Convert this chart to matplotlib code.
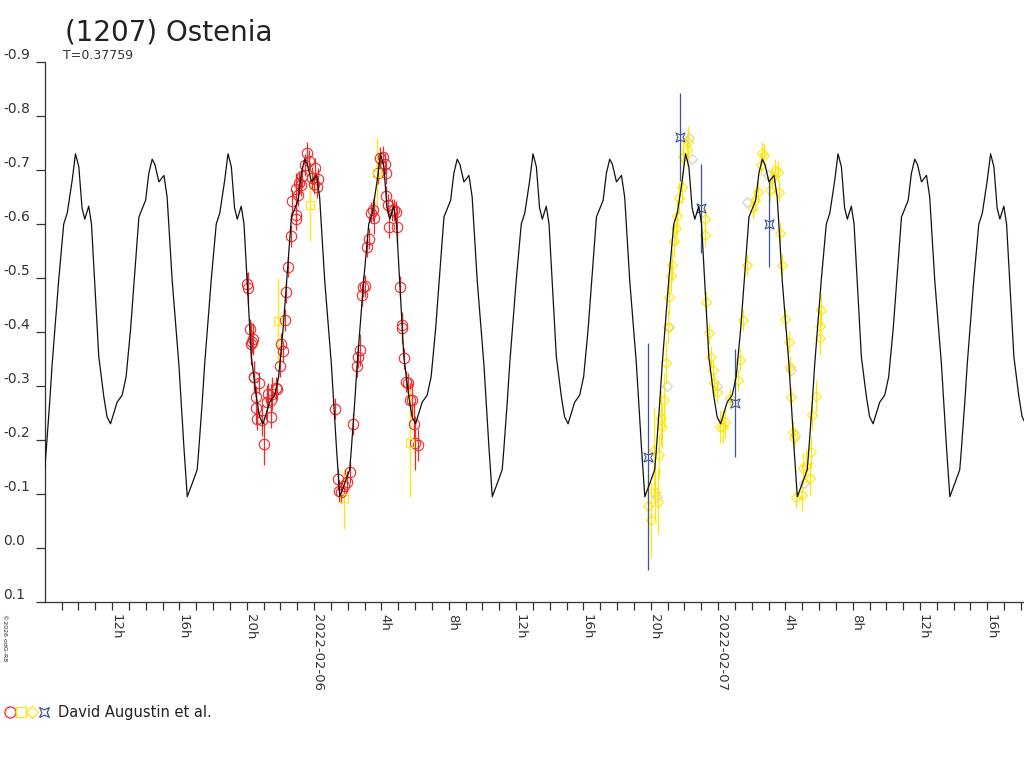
import numpy as np
import matplotlib
matplotlib.use("Agg")
import matplotlib.pyplot as plt
import matplotlib.dates as mdates
import matplotlib.transforms as mtransforms
from matplotlib.lines import Line2D
from matplotlib.legend_handler import HandlerTuple

plt.rcParams['axes.unicode_minus'] = False
plt.rcParams['font.family'] = ['DejaVu Sans']

# times are hours after 2022-02-06 00:00 UT, values are relative magnitudes
period_days = 0.37759
peak_hour = -14.18   # one maximum of the model curve

# model shape over one period (phase, mag)
shape_phase = [0.000, 0.022, 0.043, 0.061, 0.087, 0.105, 0.131, 0.153, 0.186, 0.207,
               0.230, 0.273, 0.306, 0.332, 0.361, 0.394, 0.416, 0.460, 0.481, 0.503,
               0.521, 0.547, 0.580, 0.601, 0.634, 0.678, 0.711, 0.733, 0.766, 0.798,
               0.808, 0.831, 0.847, 0.890, 0.923, 0.946, 0.978]
shape_mag = [-0.730, -0.706, -0.630, -0.609, -0.633, -0.600, -0.465, -0.354, -0.280, -0.243,
             -0.230, -0.270, -0.283, -0.317, -0.404, -0.528, -0.613, -0.644, -0.694, -0.720,
             -0.710, -0.678, -0.690, -0.650, -0.496, -0.340, -0.187, -0.095, -0.120, -0.145,
             -0.180, -0.270, -0.340, -0.496, -0.600, -0.620, -0.680]

# red circles (night 1)
red_t = [-3.97, -3.91, -3.83, -3.77, -3.67, -3.63, -3.60, -3.57, -3.47, -3.43, -3.37, -3.27,
         -3.08, -2.97, -2.78, -2.72, -2.58, -2.58, -2.48, -2.28, -2.18, -2.04, -1.95, -1.84,
         -1.73, -1.65, -1.55, -1.39, -1.29, -1.09, -1.05, -1.05, -0.93, -0.89, -0.79, -0.70,
         -0.54, -0.40, -0.30, -0.14, 0.00, 0.06, 0.20, 0.26,
         1.23, 1.39, 1.49, 1.59, 1.78, 1.98, 2.14, 2.34, 2.54, 2.62, 2.74, 2.87, 2.93, 3.02,
         3.14, 3.27, 3.37, 3.47, 3.53, 3.77, 3.93, 4.12, 4.21, 4.27, 4.27, 4.40, 4.46, 4.60,
         4.76, 4.86, 4.92, 5.12, 5.20, 5.25, 5.35, 5.46, 5.55, 5.71, 5.79, 5.91, 5.99, 6.15]
red_m = [-0.489, -0.481, -0.405, -0.378, -0.382, -0.387, -0.317, -0.317, -0.280, -0.259, -0.239, -0.306,
         -0.237, -0.193, -0.271, -0.286, -0.274, -0.242, -0.286, -0.296, -0.294, -0.337, -0.378, -0.364,
         -0.422, -0.474, -0.521, -0.578, -0.643, -0.617, -0.609, -0.664, -0.654, -0.676, -0.672, -0.688,
         -0.709, -0.731, -0.717, -0.686, -0.675, -0.703, -0.669, -0.683,
         -0.258, -0.127, -0.106, -0.104, -0.114, -0.123, -0.141, -0.230, -0.337, -0.354, -0.367, -0.469,
         -0.484, -0.485, -0.558, -0.573, -0.621, -0.626, -0.612, -0.694, -0.722, -0.725, -0.712, -0.695,
         -0.651, -0.635, -0.594, -0.626, -0.626, -0.623, -0.595, -0.484, -0.407, -0.413, -0.351, -0.308,
         -0.305, -0.275, -0.275, -0.230, -0.194, -0.191]
red_e = [0.02, 0.03, 0.02, 0.04, 0.02, 0.03, 0.03, 0.03, 0.02, 0.03, 0.02, 0.02,
         0.03, 0.04, 0.03, 0.02, 0.03, 0.02, 0.03, 0.02, 0.02, 0.02, 0.02, 0.02,
         0.02, 0.02, 0.02, 0.02, 0.02, 0.02, 0.02, 0.03, 0.02, 0.02, 0.02, 0.02,
         0.02, 0.02, 0.02, 0.02, 0.02, 0.02, 0.02, 0.02,
         0.02, 0.02, 0.02, 0.02, 0.02, 0.02, 0.02, 0.02, 0.02, 0.02, 0.03, 0.02, 0.02, 0.02,
         0.02, 0.02, 0.02, 0.02, 0.03, 0.02, 0.02, 0.02, 0.02, 0.02, 0.02, 0.02, 0.02, 0.02,
         0.02, 0.02, 0.03, 0.02, 0.03, 0.02, 0.02, 0.02, 0.02, 0.03, 0.03, 0.04, 0.05, 0.03]

# yellow squares
ysq_t = [-2.16, -0.24, 1.78, 3.73, 5.71]
ysq_m = [-0.421, -0.635, -0.092, -0.694, -0.195]
ysq_e = [0.079, 0.066, 0.056, 0.066, 0.100]

# yellow diamonds (night 2)
ydi_t = [19.83, 20.03, 20.17, 20.23, 20.42, 20.52, 20.62, 20.68, 20.76, 20.92, 21.02, 21.08,
         21.22, 21.24, 21.36, 21.52, 21.54, 21.67, 21.87, 21.91, 22.15, 22.21,
         23.20, 23.23, 23.30, 23.46, 23.60, 23.69, 23.74, 23.93, 24.09, 24.29, 24.39, 24.69,
         25.18, 25.28, 25.48, 25.72, 26.07, 26.18, 26.37, 26.57, 26.63, 26.71, 27.07, 27.23,
         27.37, 27.56, 27.62, 27.66, 27.82, 27.96, 28.21, 28.30, 28.36, 28.46, 28.50, 28.66,
         28.96, 29.05, 29.25, 29.45, 29.51, 29.61, 29.85, 30.04, 30.07, 30.10]
ydi_m = [-0.077, -0.052, -0.181, -0.104, -0.086, -0.172, -0.240, -0.225, -0.275, -0.343, -0.410, -0.464,
         -0.504, -0.524, -0.569, -0.592, -0.614, -0.648, -0.669, -0.725, -0.737, -0.752,
         -0.609, -0.580, -0.456, -0.398, -0.354, -0.330, -0.305, -0.289, -0.225, -0.225, -0.234, -0.277,
         -0.311, -0.348, -0.422, -0.524, -0.629, -0.644, -0.660, -0.709, -0.732, -0.728, -0.663, -0.685,
         -0.700, -0.697, -0.660, -0.583, -0.524, -0.425, -0.382, -0.336, -0.279, -0.215, -0.203, -0.095,
         -0.098, -0.148, -0.151, -0.129, -0.178, -0.246, -0.281, -0.388, -0.411, -0.441]
ydi_e = [0.06, 0.07, 0.08, 0.05, 0.06, 0.04, 0.05, 0.04, 0.05, 0.04, 0.03, 0.03,
         0.03, 0.03, 0.03, 0.03, 0.03, 0.03, 0.03, 0.03, 0.03, 0.03,
         0.02, 0.02, 0.02, 0.02, 0.02, 0.02, 0.02, 0.02, 0.03, 0.03, 0.03, 0.02,
         0.02, 0.02, 0.02, 0.02, 0.02, 0.02, 0.02, 0.02, 0.02, 0.02, 0.02, 0.02,
         0.02, 0.02, 0.02, 0.02, 0.02, 0.02, 0.02, 0.02, 0.02, 0.02, 0.02, 0.02,
         0.03, 0.03, 0.03, 0.03, 0.03, 0.03, 0.03, 0.03, 0.03, 0.03]

# light gray diamonds
gdi_t = [20.40, 20.95, 21.10, 22.30, 22.45, 23.95, 25.70, 26.95, 28.35, 28.55, 29.10]
gdi_m = [-0.095, -0.300, -0.410, -0.760, -0.720, -0.300, -0.640, -0.690, -0.330, -0.210, -0.120]

# blue stars
blu_t = [19.83, 21.75, 23.00, 24.99, 27.03]
blu_m = [-0.169, -0.761, -0.629, -0.269, -0.600]
blu_e = [0.210, 0.082, 0.082, 0.100, 0.080]

ytick_vals = [-0.9, -0.8, -0.7, -0.6, -0.5, -0.4, -0.3, -0.2, -0.1, 0.0, 0.1]
ytick_labels = ['-0.9', '-0.8', '-0.7', '-0.6', '-0.5', '-0.4', '-0.3', '-0.2', '-0.1', '0.0', '0.1']

base = np.datetime64('2022-02-06T00:00:00')


def to_time(hours):
    return base + (np.asarray(hours) * 3600).astype('timedelta64[s]')


fig = plt.figure(figsize=(10.24, 7.68), dpi=100)
ax = fig.add_axes([45 / 1024, 166 / 768, 979 / 1024, 540 / 768])

# model curve, one period repeated
P = period_days * 24
cyc_t, cyc_m = [], []
for k in range(-1, 7):
    cyc_t += [peak_hour + (k + p) * P for p in shape_phase]
    cyc_m += shape_mag
ax.plot(to_time(cyc_t), cyc_m, color='#111111', lw=0.9, zorder=5)

red = '#f02828'
yel = '#ffe600'
blue = '#3a55a0'
gray = '#cccccc'

ax.errorbar(to_time(red_t), red_m, yerr=red_e, fmt='o', ms=7.5, mfc='none', mec=red,
            mew=0.8, ecolor=red, elinewidth=0.9, capsize=0, zorder=3)
ax.plot(to_time(gdi_t), gdi_m, 'D', ms=5.5, mfc='none', mec=gray, mew=0.8, zorder=2)
ax.errorbar(to_time(ysq_t), ysq_m, yerr=ysq_e, fmt='s', ms=5.5, mfc='none', mec=yel,
            mew=0.8, ecolor=yel, elinewidth=0.9, capsize=0, zorder=3)
ax.errorbar(to_time(ydi_t), ydi_m, yerr=ydi_e, fmt='D', ms=5.5, mfc='none', mec=yel,
            mew=0.8, ecolor=yel, elinewidth=0.9, capsize=0, zorder=3)
star = [(-1, -1), (0, -0.55), (1, -1), (0.55, 0), (1, 1), (0, 0.55), (-1, 1), (-0.55, 0), (-1, -1)]
ax.errorbar(to_time(blu_t), blu_m, yerr=blu_e, fmt='none', ecolor=blue, elinewidth=0.9, zorder=4)
ax.plot(to_time(blu_t), blu_m, linestyle='none', marker=star, ms=6.5, mfc='none', mec=blue,
        mew=0.8, zorder=4)

ax.set_ylim(0.1, -0.9)
ax.set_xlim(to_time(-15.99), to_time(42.18))

for side in ['top', 'right']:
    ax.spines[side].set_visible(False)
for side in ['left', 'bottom']:
    ax.spines[side].set_color('#333333')
    ax.spines[side].set_linewidth(0.9)

ax.set_yticks(ytick_vals)
ax.set_yticklabels(ytick_labels)
ax.tick_params(axis='y', direction='out', length=6.5, width=0.9, color='#333333',
               labelsize=10, labelcolor='#333333', pad=23.5)
for lab in ax.get_yticklabels():
    lab.set_verticalalignment('bottom')
    lab.set_horizontalalignment('left')

ax.xaxis.set_major_locator(mdates.HourLocator(byhour=[0, 4, 8, 12, 16, 20]))
ax.xaxis.set_minor_locator(mdates.HourLocator())


def hour_fmt(x, pos=None):
    d = mdates.num2date(x)
    if d.hour == 0:
        return d.strftime('%Y-%m-%d')
    return '%dh' % d.hour


ax.xaxis.set_major_formatter(plt.FuncFormatter(hour_fmt))
ax.tick_params(axis='x', which='both', direction='out', length=6, width=0.9, color='#333333')
ax.tick_params(axis='x', which='major', labelsize=9.5, labelcolor='#333333', pad=3)
shift = mtransforms.ScaledTranslation(-3 / 100, 0, fig.dpi_scale_trans)
for lab in ax.get_xticklabels():
    lab.set_rotation(-90)
    lab.set_horizontalalignment('left')
    lab.set_verticalalignment('top')
    lab.set_transform(lab.get_transform() + shift)

fig.text(65 / 1024, 1 - 40 / 768, '(1207) Ostenia', fontsize=20, color='#222222', va='baseline')
fig.text(63 / 1024, 1 - 59 / 768, 'T=%.5f' % period_days, fontsize=9, color='#333333', va='baseline')
fig.text(2 / 1024, 1 - 614 / 768, '\u00a92026 odG-R8', fontsize=4.5, rotation=-90,
         color='#222222', va='top', ha='left')

handles = (Line2D([], [], ls='none', marker='o', ms=8, mfc='none', mec=red, mew=0.9),
           Line2D([], [], ls='none', marker='s', ms=6.5, mfc='none', mec=yel, mew=0.9),
           Line2D([], [], ls='none', marker='D', ms=6.5, mfc='none', mec=yel, mew=0.9),
           Line2D([], [], ls='none', marker=star, ms=7, mfc='none', mec=blue, mew=0.9))
leg = fig.legend([handles], ['David Augustin et al.'], loc='center left',
                 bbox_to_anchor=(4 / 1024, 1 - 713 / 768), frameon=False, fontsize=10.5,
                 handler_map={tuple: HandlerTuple(ndivide=None, pad=0)},
                 handlelength=3.1, handletextpad=0.6, borderpad=0, borderaxespad=0)
for t in leg.get_texts():
    t.set_color('#222222')

fig.savefig('out.png', dpi=100)
